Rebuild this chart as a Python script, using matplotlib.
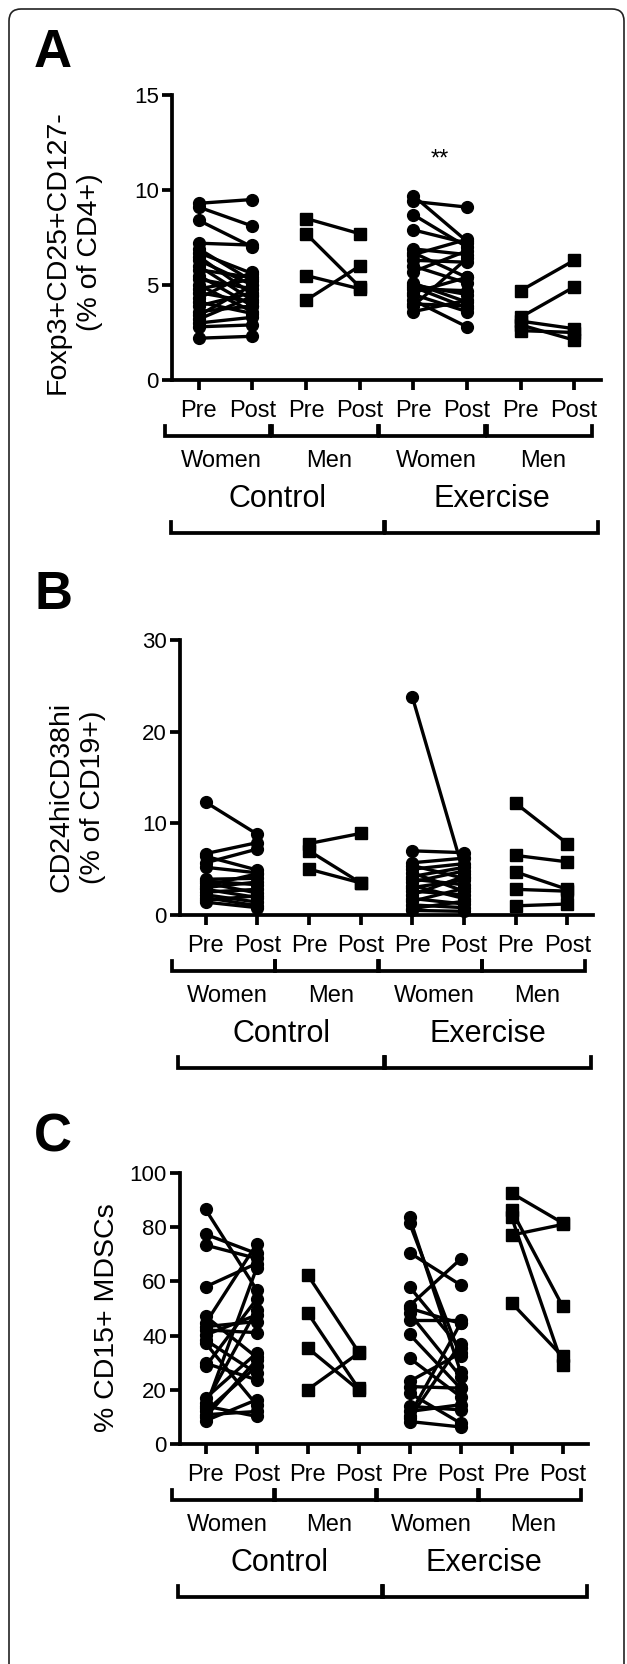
import matplotlib
matplotlib.use("Agg")
import matplotlib.pyplot as plt
from matplotlib.transforms import blended_transform_factory, IdentityTransform
from matplotlib.patches import FancyBboxPatch

plt.rcParams['font.family'] = ['Liberation Sans', 'DejaVu Sans']

W, H = 627, 1664

# x labels
pre_post = ["Pre", "Post"] * 4
sex = ["Women", "Men", "Women", "Men"]
arm = ["Control", "Exercise"]

# panel A: Foxp3+CD25+CD127- (% of CD4+), (pre, post) per subject
a_ctrl_women_pre = [9.3, 9.1, 8.4, 7.2, 6.9, 6.7, 6.5, 6.3, 6.0, 5.8, 5.5, 5.3, 5.0, 4.8, 4.6, 4.3, 4.1, 3.9, 3.6, 3.4, 3.2, 3.0, 2.8, 2.2]
a_ctrl_women_post = [9.5, 8.1, 7.0, 7.1, 5.2, 5.6, 4.5, 5.0, 4.2, 5.4, 3.9, 4.8, 3.6, 5.3, 4.1, 5.7, 3.5, 4.6, 3.9, 5.0, 4.4, 3.3, 2.9, 2.3]
a_ctrl_men_pre = [8.5, 7.7, 5.5, 4.2]
a_ctrl_men_post = [7.7, 4.9, 4.8, 6.0]
a_ex_women_pre = [9.7, 9.4, 8.7, 7.9, 6.9, 6.7, 6.6, 6.3, 6.0, 5.7, 5.1, 4.9, 4.8, 4.6, 4.5, 4.2, 4.0, 3.6, 3.9, 5.0]
a_ex_women_post = [7.3, 9.1, 7.0, 7.2, 6.6, 5.4, 7.4, 6.2, 5.1, 6.8, 4.1, 3.8, 4.7, 5.4, 3.6, 2.8, 3.9, 4.2, 6.4, 4.5]
a_ex_men_pre = [4.7, 3.3, 3.1, 2.9, 2.6]
a_ex_men_post = [6.3, 4.9, 2.7, 2.1, 2.5]

# panel B: CD24hiCD38hi (% of CD19+)
b_ctrl_women_pre = [12.3, 6.7, 6.4, 5.7, 5.2, 3.9, 3.7, 3.5, 3.0, 2.8, 2.5, 2.2, 1.9, 1.6, 1.4, 3.2]
b_ctrl_women_post = [8.8, 7.9, 4.9, 7.2, 4.6, 4.0, 3.3, 2.4, 3.6, 1.9, 2.8, 1.4, 1.0, 2.1, 0.8, 4.5]
b_ctrl_men_pre = [7.8, 7.0, 5.0]
b_ctrl_men_post = [8.9, 3.5, 3.5]
b_ex_women_pre = [23.8, 7.0, 5.7, 5.4, 5.0, 4.6, 4.2, 3.9, 3.6, 3.2, 3.0, 2.6, 2.2, 1.8, 1.5, 1.1, 0.7, 0.5]
b_ex_women_post = [4.5, 6.8, 6.2, 4.0, 5.6, 2.6, 5.2, 3.3, 4.8, 1.8, 3.8, 2.2, 4.2, 1.2, 2.9, 0.8, 1.5, 0.4]
b_ex_men_pre = [12.2, 6.5, 4.7, 2.8, 1.0]
b_ex_men_post = [7.8, 5.8, 2.8, 2.6, 1.2]

# panel C: % CD15+ MDSCs
c_ctrl_women_pre = [86.6, 77.4, 73.4, 58.0, 47.2, 44.5, 43.3, 42.1, 40.2, 38.4, 37.2, 29.8, 28.6, 16.9, 15.1, 13.3, 12.0, 10.8, 10.0, 8.6, 14.0]
c_ctrl_women_post = [57.0, 70.3, 68.5, 66.6, 32.0, 73.7, 45.2, 41.1, 47.6, 26.1, 14.5, 23.7, 53.4, 33.5, 49.4, 64.8, 28.6, 12.0, 31.0, 16.3, 10.2]
c_ctrl_men_pre = [62.5, 48.5, 35.5, 20.0]
c_ctrl_men_post = [34.0, 20.5, 20.0, 33.5]
c_ex_women_pre = [83.6, 81.6, 70.6, 58.0, 51.0, 50.1, 48.2, 45.8, 40.5, 31.7, 23.1, 21.2, 18.8, 13.9, 12.0, 10.5, 8.3, 9.5]
c_ex_women_post = [26.7, 32.3, 58.7, 35.3, 68.2, 44.5, 24.9, 45.8, 20.6, 17.5, 33.5, 20.6, 7.7, 12.6, 14.5, 44.5, 6.3, 37.0]
c_ex_men_pre = [92.6, 86.3, 83.8, 77.1, 52.1]
c_ex_men_post = [81.6, 50.9, 29.2, 81.0, 32.3]

fig = plt.figure(figsize=(W / 100, H / 100), dpi=100)

# rounded frame round the figure
frame = FancyBboxPatch((9, -40), 615, H - 9 + 40, boxstyle="round,pad=0,rounding_size=12",
                       transform=IdentityTransform(), fill=False, ec="#222222", lw=1.2)
fig.add_artist(frame)


def make_axes(left, right, top, bottom):
    return fig.add_axes([left / W, 1 - bottom / H, (right - left) / W, (bottom - top) / H])


def draw_panel(ax, groups, ymax, yticks, y0_px):
    for i, (pre, post, mk) in enumerate(groups):
        x1, x2 = 2 * i + 1, 2 * i + 2
        for a, b in zip(pre, post):
            ax.plot([x1, x2], [a, b], color="black", lw=2.4, marker=mk,
                    ms=8.5, clip_on=False, zorder=3)
    ax.set_xlim(0.5, 8.5)
    ax.set_ylim(0, ymax)
    ax.set_yticks(yticks)
    ax.set_xticks(range(1, 9))
    ax.set_xticklabels([])
    ax.spines[["top", "right"]].set_visible(False)
    ax.spines[["left", "bottom"]].set_linewidth(2.7)
    ax.tick_params(width=2.7, length=7.5, labelsize=16, pad=2, colors="black")

    unit = ax.get_position().width * W / 8
    tr = blended_transform_factory(ax.transData, fig.transFigure)

    def fy(d):
        return 1 - (y0_px + d) / H

    for k in range(8):
        ax.text(k + 1, fy(31), pre_post[k], transform=tr, ha="center", va="center", fontsize=17)
    for k in range(4):
        xa = 2 * k + 1 - 34 / unit
        xb = 2 * k + 2 + 18 / unit
        ax.plot([xa, xa, xb, xb], [fy(46), fy(56), fy(56), fy(46)], transform=tr,
                color="black", lw=2.7, clip_on=False, solid_joinstyle="miter")
        ax.text(2 * k + 1.5 - 4 / unit, fy(81), sex[k], transform=tr, ha="center", va="center", fontsize=17)
    for k in range(2):
        xa = 4 * k + 1 - 28 / unit
        xb = 4 * k + 4 + 24 / unit
        ax.plot([xa, xa, xb, xb], [fy(142), fy(153), fy(153), fy(142)], transform=tr,
                color="black", lw=2.7, clip_on=False, solid_joinstyle="miter")
        ax.text((xa + xb) / 2, fy(119), arm[k], transform=tr, ha="center", va="center", fontsize=22)


axA = make_axes(172, 601, 95, 380)
draw_panel(axA, [(a_ctrl_women_pre, a_ctrl_women_post, "o"), (a_ctrl_men_pre, a_ctrl_men_post, "s"),
                 (a_ex_women_pre, a_ex_women_post, "o"), (a_ex_men_pre, a_ex_men_post, "s")],
           15, [0, 5, 10, 15], 380)
axA.text(5.5, 11.6, "**", ha="center", va="center", fontsize=17)

axB = make_axes(180, 593, 640, 915)
draw_panel(axB, [(b_ctrl_women_pre, b_ctrl_women_post, "o"), (b_ctrl_men_pre, b_ctrl_men_post, "s"),
                 (b_ex_women_pre, b_ex_women_post, "o"), (b_ex_men_pre, b_ex_men_post, "s")],
           30, [0, 10, 20, 30], 915)

axC = make_axes(180, 588, 1173, 1444)
draw_panel(axC, [(c_ctrl_women_pre, c_ctrl_women_post, "o"), (c_ctrl_men_pre, c_ctrl_men_post, "s"),
                 (c_ex_women_pre, c_ex_women_post, "o"), (c_ex_men_pre, c_ex_men_post, "s")],
           100, [0, 20, 40, 60, 80, 100], 1444)

# y labels and panel letters
fig.text(74 / W, 1 - 252 / H, "Foxp3+CD25+CD127-\n(% of CD4+)", rotation=90,
         ha="center", va="center", fontsize=20.5, linespacing=1.3)
fig.text(77 / W, 1 - 797 / H, "CD24hiCD38hi\n(% of CD19+)", rotation=90,
         ha="center", va="center", fontsize=20.5, linespacing=1.3)
fig.text(107 / W, 1 - 1318 / H, "% CD15+ MDSCs", rotation=90,
         ha="center", va="center", fontsize=20.5)

for letter, top in [("A", 28), ("B", 570), ("C", 1112)]:
    fig.text(34 / W, 1 - top / H, letter, ha="left", va="top", fontsize=38, fontweight="bold")

fig.savefig("out.png", dpi=100)
